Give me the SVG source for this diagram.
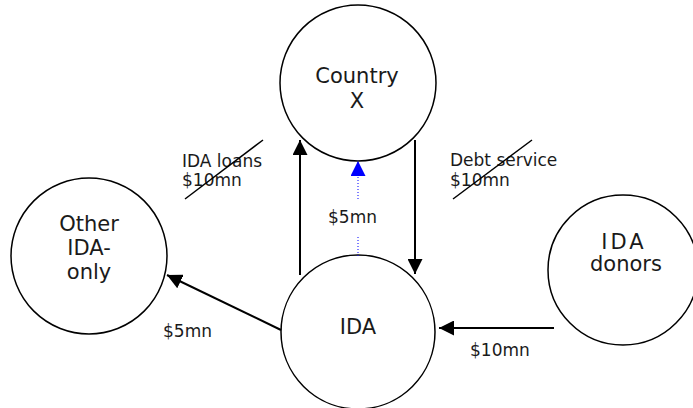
<svg xmlns="http://www.w3.org/2000/svg" width="693" height="408" viewBox="0 0 693 408">
<style>
.node{fill:#fff;stroke:#000;stroke-width:1.5}
.t{font-family:"DejaVu Sans",Verdana,sans-serif;font-size:21px;fill:#1a1a1a;text-anchor:middle}
.l{font-family:"DejaVu Sans",Verdana,sans-serif;font-size:17px;fill:#1a1a1a}
.c{stroke:#000;stroke-width:2;fill:none}
.s{stroke:#000;stroke-width:1.5}
</style>
<defs>
<marker id="ahb" markerWidth="15" markerHeight="15" refX="15" refY="7.5" orient="auto" markerUnits="userSpaceOnUse" viewBox="0 0 15 15">
<path d="M0,0 L15,7.5 L0,15 z" fill="#0000ff"/>
</marker>
<marker id="ahk" markerWidth="15" markerHeight="15" refX="15" refY="7.5" orient="auto" markerUnits="userSpaceOnUse" viewBox="0 0 15 15">
<path d="M0,0 L15,7.5 L0,15 z" fill="#000"/>
</marker>
</defs>
<g id="country-x">
<circle class="node" cx="358" cy="83" r="78"/>
<text class="t" x="357" y="83">Country</text>
<text class="t" x="357" y="108">X</text>
</g>
<g id="ida">
<circle class="node" cx="358" cy="332" r="77"/>
<text class="t" x="358" y="334">IDA</text>
</g>
<g id="other-ida-only">
<circle class="node" cx="89" cy="256" r="78"/>
<text class="t" x="89" y="231">Other</text>
<text class="t" x="89" y="255">IDA-</text>
<text class="t" x="89" y="279">only</text>
</g>
<g id="ida-donors">
<circle class="node" cx="623" cy="270" r="75"/>
<text class="t" x="624" y="249" style="letter-spacing:3px">IDA</text>
<text class="t" x="626" y="271">donors</text>
</g>
<g id="connectors">
<line class="c" x1="300" y1="275" x2="300" y2="140" marker-end="url(#ahk)"/>
<line class="c" x1="415" y1="140" x2="415" y2="274" marker-end="url(#ahk)"/>
<line x1="358" y1="256" x2="358" y2="161" stroke="#0000ff" stroke-width="1" stroke-dasharray="1,2" marker-end="url(#ahb)"/>
<line class="c" x1="281" y1="330" x2="167" y2="275" marker-end="url(#ahk)"/>
<line class="c" x1="554" y1="328" x2="439" y2="328" marker-end="url(#ahk)"/>
</g>
<g id="labels">
<rect x="326" y="199" width="50" height="37" fill="#fff"/>
<text class="l" x="328" y="223">$5mn</text>
<text class="l" x="182" y="167">IDA loans</text>
<text class="l" x="182" y="186">$10mn</text>
<line class="s" x1="185" y1="199" x2="263" y2="140"/>
<text class="l" x="450" y="166">Debt service</text>
<text class="l" x="450" y="186">$10mn</text>
<line class="s" x1="453" y1="199" x2="532" y2="140"/>
<text class="l" x="163" y="337">$5mn</text>
<text class="l" x="470" y="356">$10mn</text>
</g>
</svg>
